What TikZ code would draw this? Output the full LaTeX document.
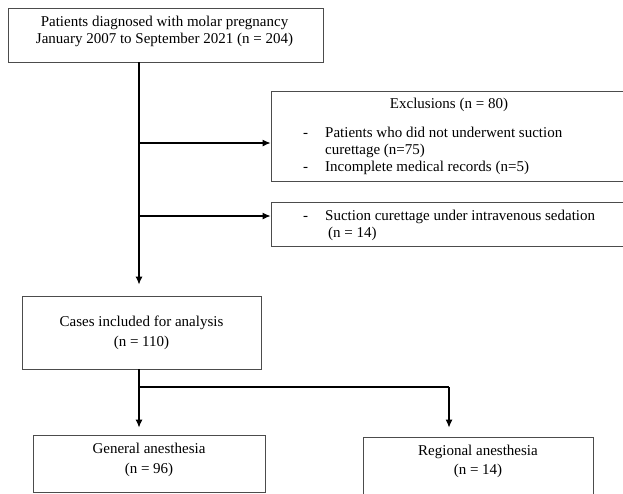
\documentclass[tikz,border=0pt]{standalone}
\usepackage{fontspec}
\setmainfont{Liberation Serif}
\usetikzlibrary{arrows.meta}
\tikzset{
  box/.style={draw=black!70, line width=0.9pt, inner sep=0pt},
  txt/.style={inner sep=0pt, align=center, font=\fontsize{15}{17}\selectfont},
  link/.style={line width=1.1pt},
  arr/.style={link, -{Latex[length=8pt,width=7pt]}}
}
\begin{document}
\begin{tikzpicture}[x=1pt,y=-1pt]
\useasboundingbox (0,0) rectangle (623,493);

% boxes
\node[box, minimum width=315pt, minimum height=54pt] (patients) at (165.5,35) {};
\node[box, minimum width=354pt, minimum height=90pt] (excl) at (448,136) {};
\node[box, minimum width=354pt, minimum height=44pt] (ivsed) at (448,224) {};
\node[box, minimum width=239pt, minimum height=73pt] (cases) at (141.5,332.5) {};
\node[box, minimum width=232pt, minimum height=57pt] (general) at (149,463.5) {};
\node[box, minimum width=230pt, minimum height=63pt] (regional) at (478,468.5) {};

% texts
\node[txt] (patientstxt) at (164.5,31.5) {Patients diagnosed with molar pregnancy\\January 2007 to September 2021 (n = 204)};
\node[txt] (excltitle) at (449,105) {Exclusions (n = 80)};
\node[txt, anchor=west] (excllist) at (303,151) {\begin{tabular}{@{}p{22pt}@{}l@{}}
- & Patients who did not underwent suction\\
 & curettage (n=75)\\
- & Incomplete medical records (n=5)
\end{tabular}};
\node[txt, anchor=west] (ivsedlist) at (303,226) {\begin{tabular}{@{}p{22pt}@{}l@{}}
- & Suction curettage under intravenous sedation\\
 & \hspace{3pt}(n = 14)
\end{tabular}};
\node[txt, font=\fontsize{15}{20}\selectfont] (casestxt) at (141.5,333) {Cases included for analysis\\(n = 110)};
\node[txt, font=\fontsize{15}{20}\selectfont] (generaltxt) at (149,460) {General anesthesia\\(n = 96)};
\node[txt, font=\fontsize{15}{19}\selectfont] (regionaltxt) at (478,461.5) {Regional anesthesia\\(n = 14)};

% connectors
\coordinate (b1) at (139,143);
\coordinate (b2) at (139,216);
\coordinate (forkL) at (139,387);
\coordinate (forkR) at (449,387);
\draw[arr, shorten >=11pt] (patients.south -| b1) -- (b1 |- cases.north);
\draw[arr] (b1) -- (b1 -| excl.west);
\draw[arr] (b2) -- (b2 -| ivsed.west);
\draw[link] (forkL |- cases.south) -- (forkL) -- (forkR);
\draw[arr, shorten >=7pt] (forkL) -- (forkL |- general.north);
\draw[arr, shorten >=9pt] (forkR) -- (forkR |- regional.north);
\end{tikzpicture}
\end{document}
